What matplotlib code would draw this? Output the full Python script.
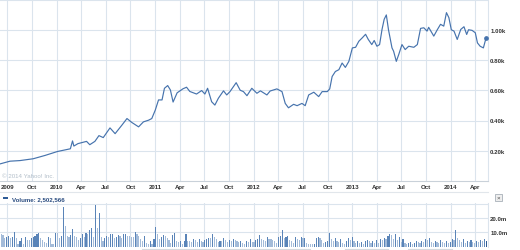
import matplotlib
matplotlib.use("Agg")
import matplotlib.pyplot as plt
from matplotlib.patches import Rectangle
from matplotlib.lines import Line2D
import pandas as pd

# ---- data ----
price_dates = [
    "2009-06-04", "2009-07-11", "2009-08-17", "2009-10-05", "2009-11-18", "2010-01-03",
    "2010-02-20", "2010-02-28", "2010-03-05", "2010-03-20", "2010-04-21", "2010-05-03",
    "2010-05-22", "2010-06-06", "2010-06-22", "2010-07-17", "2010-08-05", "2010-08-30",
    "2010-09-18", "2010-10-06", "2010-10-31", "2010-11-18", "2010-12-07", "2010-12-19",
    "2011-01-01", "2011-01-13", "2011-01-26", "2011-02-04", "2011-02-16", "2011-02-26",
    "2011-03-08", "2011-03-23", "2011-04-14", "2011-04-27", "2011-05-09", "2011-06-03",
    "2011-06-22", "2011-07-04", "2011-07-14", "2011-07-29", "2011-08-10", "2011-08-23",
    "2011-09-11", "2011-09-23", "2011-10-05", "2011-10-28", "2011-11-12", "2011-11-24",
    "2011-12-07", "2011-12-25", "2012-01-13", "2012-01-26", "2012-02-19", "2012-03-02",
    "2012-03-27", "2012-04-15", "2012-04-27", "2012-05-09", "2012-05-28", "2012-06-10",
    "2012-06-28", "2012-07-10", "2012-07-23", "2012-08-11", "2012-08-29", "2012-09-11",
    "2012-09-30", "2012-10-09", "2012-10-18", "2012-10-30", "2012-11-12", "2012-11-24",
    "2012-12-06", "2012-12-19", "2013-01-01", "2013-01-13", "2013-01-25", "2013-02-07",
    "2013-02-19", "2013-03-01", "2013-03-14", "2013-03-23", "2013-04-02", "2013-04-12",
    "2013-04-21", "2013-04-29", "2013-05-07", "2013-05-15", "2013-05-28", "2013-06-03",
    "2013-06-13", "2013-06-22", "2013-07-04", "2013-07-16", "2013-07-29", "2013-08-17",
    "2013-08-30", "2013-09-11", "2013-09-23", "2013-10-05", "2013-10-11", "2013-10-30",
    "2013-11-12", "2013-11-24", "2013-12-06", "2013-12-16", "2013-12-25", "2014-01-03",
    "2014-01-13", "2014-01-25", "2014-02-07", "2014-02-19", "2014-03-01", "2014-03-08",
    "2014-03-21", "2014-04-02", "2014-04-10", "2014-04-20", "2014-05-02", "2014-05-12",
]
price_k = [
    0.113, 0.131, 0.135, 0.147, 0.169, 0.195,
    0.213, 0.265, 0.231, 0.247, 0.262, 0.240,
    0.262, 0.300, 0.287, 0.351, 0.313, 0.369,
    0.413, 0.387, 0.358, 0.391, 0.402, 0.413,
    0.469, 0.536, 0.536, 0.613, 0.631, 0.602,
    0.522, 0.583, 0.610, 0.620, 0.592, 0.575,
    0.598, 0.575, 0.613, 0.524, 0.502, 0.547,
    0.596, 0.569, 0.591, 0.650, 0.600, 0.591,
    0.564, 0.613, 0.580, 0.596, 0.569, 0.595,
    0.609, 0.591, 0.513, 0.484, 0.507, 0.498,
    0.513, 0.498, 0.569, 0.587, 0.558, 0.591,
    0.591, 0.609, 0.691, 0.724, 0.736, 0.780,
    0.751, 0.791, 0.880, 0.884, 0.924, 0.947,
    0.970, 0.936, 0.902, 0.929, 0.891, 0.902,
    1.002, 1.069, 1.098, 1.000, 0.880, 0.858,
    0.791, 0.836, 0.902, 0.869, 0.891, 0.884,
    0.902, 1.009, 1.013, 0.991, 1.016, 0.958,
    1.000, 1.036, 1.024, 1.113, 1.080, 1.000,
    0.991, 0.936, 1.002, 1.020, 0.969, 1.000,
    0.996, 0.980, 0.913, 0.891, 0.880, 0.947,
]

# weekly volume in millions, first week starting 2009-06-08
volume_first_week = "2009-06-08"
volume_2009_2010 = [
    9.1, 8.2, 6.3, 6.8, 7.2, 5.8, 6.8, 10.5, 5.8, 2.1, 4.0, 5.8, 2.1, 6.8, 4.4, 4.4,
    5.8, 6.8, 7.5, 9.1, 9.8, 6.3, 4.4, 3.5, 2.8, 6.8, 6.3, 1.6, 1.6, 9.3, 9.3, 6.3, 7.5,
    28.0,
    14.5, 7.5, 7.0, 8.2, 12.1, 7.5, 7.0, 4.4, 6.3, 9.1, 6.8, 9.8, 9.1, 11.4, 13.3, 6.8,
    29.6, 13.3, 23.8,
    6.8, 4.0, 6.3, 7.5, 6.8, 8.6, 9.1, 6.3, 6.8, 8.2, 7.5, 5.8, 8.6, 9.1, 7.5, 7.5,
]
volume_2010_2012 = [
    6.8, 6.8, 10.5, 9.1, 7.5, 5.1, 4.0, 7.5, 2.8, 1.6, 4.0, 2.1, 5.1, 13.8, 9.1, 5.1,
    6.8, 8.2, 7.5, 6.3, 4.4, 2.8, 8.2, 9.8, 4.0, 3.5, 4.0, 2.1, 4.0, 9.1, 4.0, 4.0,
    3.5, 5.1, 4.4, 3.5, 5.1, 4.0, 3.5, 4.4, 5.1, 6.3, 5.8, 8.6, 6.8, 5.1, 3.5, 4.0,
    4.0, 6.3, 4.4, 3.5, 4.4, 4.0, 5.1, 4.4, 4.0, 3.5, 4.0, 2.8, 2.1, 4.0, 3.5, 5.1,
    3.5, 3.5,
]
volume_2012_2013 = [
    4.4, 5.1, 8.2, 5.1, 4.4, 4.0, 6.8, 5.1, 5.1, 4.4, 4.0, 2.8, 6.8, 7.5, 11.4, 5.8,
    6.8, 7.5, 4.4, 4.0, 2.8, 6.8, 5.1, 4.4, 6.8, 5.8, 6.3, 2.8, 2.1, 2.1, 1.6, 2.1,
    6.3, 6.8, 5.8, 4.4, 2.8, 3.5, 4.0, 9.8, 5.1, 4.0, 5.8, 4.0, 3.5, 5.1, 2.8, 2.1,
    4.0, 5.8, 4.4, 6.8, 4.0, 2.8, 4.0, 2.8, 3.5, 2.1, 4.0, 4.4, 4.0, 2.8, 4.0, 2.8,
    4.4, 2.8,
]
volume_2013_2014 = [
    5.1, 4.4, 6.3, 5.1, 7.5,
    8.6, 8.2, 5.1, 9.1, 4.4, 7.0, 3.5,
    5.1, 2.8, 2.1, 2.8, 3.5, 2.1, 2.8, 4.0,
    3.5, 2.8, 4.0, 3.5, 5.1, 4.4, 5.8, 3.5, 2.8, 4.0,
    3.5, 2.8, 4.4, 3.5, 2.8, 4.0, 2.8, 3.5, 5.1, 4.4,
    11.4,
    5.8, 4.4, 3.5, 5.1, 2.8, 4.0, 3.5, 4.4, 3.5, 2.8, 4.0, 3.5, 4.4, 4.0, 5.1, 4.0,
]
last_volume = "2,502,566"

tick_dates = [
    "2009-07-01", "2009-10-01", "2010-01-01", "2010-04-01", "2010-07-01", "2010-10-01",
    "2011-01-01", "2011-04-01", "2011-07-01", "2011-10-01", "2012-01-01", "2012-04-01",
    "2012-07-01", "2012-10-01", "2013-01-01", "2013-04-01", "2013-07-01", "2013-10-01",
    "2014-01-01", "2014-04-01",
]
tick_labels = ["2009", "Oct", "2010", "Apr", "Jul", "Oct", "2011", "Apr", "Jul", "Oct",
               "2012", "Apr", "Jul", "Oct", "2013", "Apr", "Jul", "Oct", "2014", "Apr"]
price_ticks = [0.2, 0.4, 0.6, 0.8, 1.0]
price_tick_labels = ["0.20k", "0.40k", "0.60k", "0.80k", "1.00k"]
volume_ticks = [10, 20]
volume_tick_labels = ["10.0m", "20.0m"]

# ---- styling ----
W, H = 520, 251
GRID = "#dbe4ed"
LINE = "#4673ad"
DARK_BAR = "#5a84b8"
LIGHT_BAR = "#a3bbd9"
LABEL = "#333333"
FS = 4.4

plt.rcParams["font.family"] = ["Liberation Sans", "DejaVu Sans"]

x_start = pd.Timestamp("2009-06-04")
x_end = pd.Timestamp("2014-05-18")

dates = pd.to_datetime(price_dates)
volumes = volume_2009_2010 + volume_2010_2012 + volume_2012_2013 + volume_2013_2014
week_dates = pd.date_range(volume_first_week, periods=len(volumes), freq="7D")
ticks = pd.to_datetime(tick_dates)

fig = plt.figure(figsize=(W / 100, H / 100), dpi=100)


def px_rect(left, top, right, bottom):
    return [left / W, 1 - bottom / H, (right - left) / W, (bottom - top) / H]


# ---- price panel ----
ax = fig.add_axes(px_rect(0, 0.5, 487.7, 182))
ax.plot(dates, price_k, color=LINE, linewidth=0.85, solid_joinstyle="round", zorder=3)
ax.plot(dates[-1:], price_k[-1:], "o", color=LINE, markersize=2.4, zorder=4)
ax.set_xlim(x_start, x_end)
ax.set_ylim(0, 1.2)
ax.set_xticks(ticks)
ax.set_xticklabels(tick_labels)
ax.set_yticks(price_ticks)
ax.set_yticklabels(price_tick_labels)
ax.yaxis.tick_right()
ax.tick_params(axis="both", length=0, labelsize=FS, labelcolor=LABEL)
ax.tick_params(axis="x", pad=2.2)
ax.tick_params(axis="y", pad=1.8)
for lbl in ax.get_xticklabels() + ax.get_yticklabels():
    lbl.set_fontweight("bold")
ax.grid(True, color=GRID, linewidth=0.8)
for side in ["left", "top"]:
    ax.spines[side].set_visible(False)
ax.spines["right"].set_color(GRID)
ax.spines["right"].set_linewidth(0.8)
ax.spines["bottom"].set_color("#c9d1d9")
ax.spines["bottom"].set_linewidth(0.8)
ax.axhline(1.2, color=GRID, linewidth=0.8)
ax.text(2 / 487.7, 0.03, "\u00a9 2014 Yahoo! Inc.", transform=ax.transAxes,
        fontsize=FS, color="#b2bec9", va="center", ha="left")

# ---- volume panel ----
axv = fig.add_axes(px_rect(0, 204, 487.7, 247.6))
bar_colors = [DARK_BAR if i > 0 and v > volumes[i - 1] else LIGHT_BAR
              for i, v in enumerate(volumes)]
bar_colors[-1] = "#2f5c96"
axv.bar(week_dates, volumes, width=4.2, color=bar_colors, linewidth=0, zorder=3)
axv.set_xlim(x_start, x_end)
axv.set_ylim(0, 30.7)
axv.set_xticks(ticks)
axv.set_xticklabels([])
axv.set_yticks(volume_ticks + [30])
axv.set_yticklabels(volume_tick_labels + [""])
axv.yaxis.tick_right()
axv.tick_params(axis="both", length=0, labelsize=FS, labelcolor=LABEL)
axv.tick_params(axis="y", pad=1.8)
for lbl in axv.get_yticklabels():
    lbl.set_fontweight("bold")
axv.grid(True, color=GRID, linewidth=0.8)
for side in ["left", "top", "bottom"]:
    axv.spines[side].set_visible(False)
axv.spines["right"].set_color(GRID)
axv.spines["right"].set_linewidth(0.8)

# ---- volume header, separator, close box ----
fig.add_artist(Line2D([0, 487.7 / W], [1 - 192.5 / H] * 2, color="#e1e6eb", linewidth=0.8))
fig.add_artist(Rectangle((2.7 / W, 1 - 200.3 / H), 5.6 / W, 2.2 / H,
                         transform=fig.transFigure, color="#2f5c96", linewidth=0))
fig.text(11.5 / W, 1 - 199.2 / H, "Volume: " + last_volume, fontsize=FS,
         fontweight="bold", color="#2a4c80", va="center", ha="left")
fig.add_artist(Rectangle((494.5 / W, 1 - 201.5 / H), 7 / W, 7 / H,
                         transform=fig.transFigure, facecolor="#eeeeee",
                         edgecolor="#a8b0b8", linewidth=0.6))
fig.text(498 / W, 1 - 198 / H, "\u00d7", fontsize=4.5, color="#444444",
         va="center", ha="center")

# navigator strip at the very bottom
for x0, x1 in [(142, 310), (345, 388), (408, 452)]:
    fig.add_artist(Line2D([x0 / W, x1 / W], [1 - 250 / H] * 2, color="#d4d9de",
                          linewidth=0.8))

fig.savefig("out.png", dpi=100, facecolor="white")
